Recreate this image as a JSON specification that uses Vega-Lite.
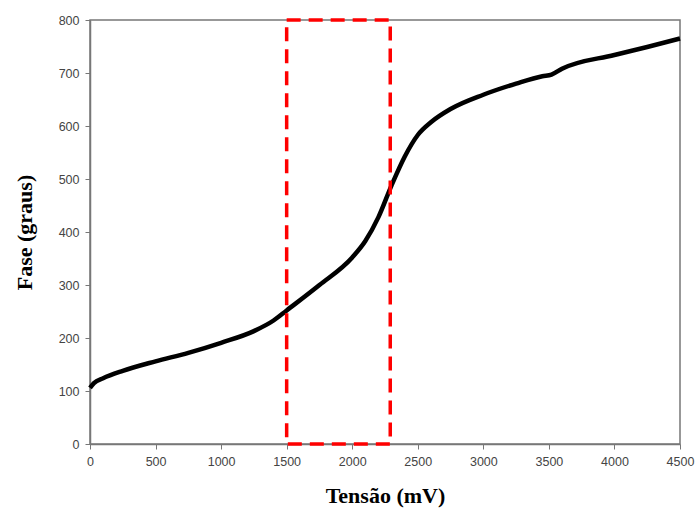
{
  "$schema": "https://vega.github.io/schema/vega-lite/v6.json",
  "width": 590,
  "height": 424,
  "autosize": "none",
  "padding": {"left": 90, "top": 20, "right": 18, "bottom": 67},
  "background": "white",
  "config": {
    "view": {"stroke": "#777", "strokeWidth": 1.5},
    "axis": {
      "grid": false,
      "domainColor": "#777",
      "domainWidth": 1.5,
      "tickColor": "#777",
      "tickSize": 5,
      "labelColor": "#444",
      "labelFont": "Liberation Sans",
      "labelFontSize": 12.5,
      "labelFlush": false,
      "titleFont": "Liberation Serif",
      "titleFontSize": 22,
      "titleFontWeight": "bold",
      "titleColor": "black"
    }
  },
  "datasets": {
    "curve": [
      {"v": 0, "f": 106}, {"v": 30, "f": 115}, {"v": 100, "f": 124}, {"v": 250, "f": 138},
      {"v": 500, "f": 156}, {"v": 750, "f": 172}, {"v": 1000, "f": 191}, {"v": 1250, "f": 213},
      {"v": 1400, "f": 233}, {"v": 1500, "f": 252}, {"v": 1750, "f": 300}, {"v": 2000, "f": 352},
      {"v": 2100, "f": 383}, {"v": 2200, "f": 428}, {"v": 2300, "f": 488}, {"v": 2400, "f": 542},
      {"v": 2500, "f": 583}, {"v": 2600, "f": 607}, {"v": 2750, "f": 632}, {"v": 3000, "f": 659},
      {"v": 3250, "f": 680}, {"v": 3450, "f": 694}, {"v": 3520, "f": 697}, {"v": 3600, "f": 708},
      {"v": 4000, "f": 734}, {"v": 4250, "f": 749}, {"v": 4500, "f": 765}
    ],
    "box": [{"x1": 1500, "x2": 2290, "y1": 0, "y2": 800}]
  },
  "layer": [
    {
      "data": {"name": "curve"},
      "mark": {"type": "line", "color": "black", "strokeWidth": 4.5, "interpolate": "monotone"},
      "encoding": {
        "x": {"field": "v", "type": "quantitative", "scale": {"domain": [0, 4500], "nice": false},
              "axis": {"values": [0, 500, 1000, 1500, 2000, 2500, 3000, 3500, 4000, 4500], "format": "d", "title": "Tensão (mV)", "titlePadding": 18, "labelPadding": 6}},
        "y": {"field": "f", "type": "quantitative", "scale": {"domain": [0, 800], "nice": false},
              "axis": {"values": [0, 100, 200, 300, 400, 500, 600, 700, 800], "title": "Fase (graus)", "titlePadding": 22, "labelPadding": 6}}
      }
    },
    {
      "data": {"name": "box"},
      "mark": {"type": "rect", "fill": null, "fillOpacity": 0, "stroke": "#ff0000", "strokeWidth": 3.5, "strokeDash": [14, 8]},
      "encoding": {
        "x": {"field": "x1", "type": "quantitative"},
        "x2": {"field": "x2"},
        "y": {"field": "y1", "type": "quantitative"},
        "y2": {"field": "y2"}
      }
    }
  ]
}
